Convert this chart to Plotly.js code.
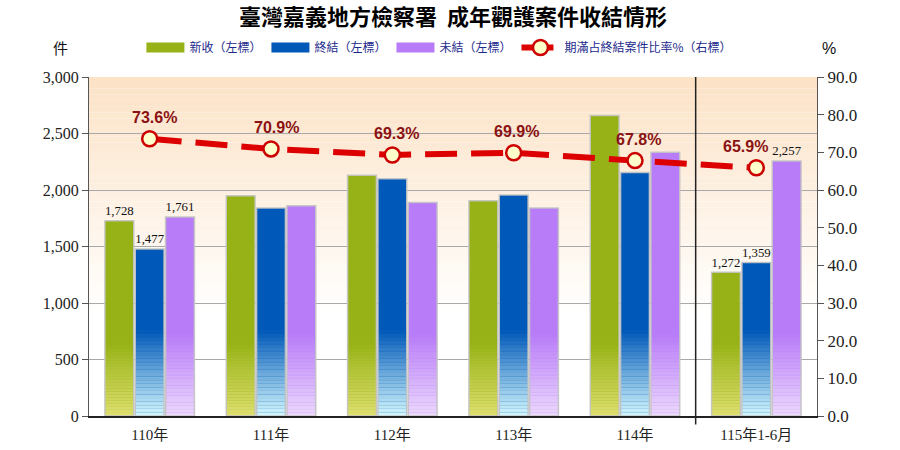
<!DOCTYPE html>
<html>
<head>
<meta charset="utf-8">
<script src="https://cdn.plot.ly/plotly-3.0.1.min.js"></script>
<style>
html,body{margin:0;padding:0;background:#fff;}
#chart{width:900px;height:450px;}
</style>
</head>
<body>
<div id="chart"></div>
<script>
// ---- data ----
const categories = ['110年', '111年', '112年', '113年', '114年', '115年1-6月'];
const newCases   = [1728, 1950, 2130, 1905, 2660, 1272];
const closed     = [1477, 1840, 2100, 1955, 2155, 1359];
const pending    = [1761, 1860, 1890, 1840, 2335, 2257];
const ratio      = [73.6, 70.9, 69.3, 69.9, 67.8, 65.9];
const labeledIdx = [0, 5];
const seriesNames = ['新收（左標）', '終結（左標）', '未結（左標）'];
const lineName = '期滿占終結案件比率%（右標）';
const titleText = '臺灣嘉義地方檢察署  成年觀護案件收結情形';

// ---- styles ----
const series = [
  {vals: newCases, name: seriesNames[0], top: [150,178,22], bottom: [224,224,112], fadeTo: 650, grp: 'g'},
  {vals: closed,   name: seriesNames[1], top: [0,88,184],   bottom: [212,248,253], fadeTo: 760, grp: 'b'},
  {vals: pending,  name: seriesNames[2], top: [184,124,248],bottom: [236,218,252], fadeTo: 720, grp: 'p'}
];
const SEG = 24;
const mix = (a, b, t) => 'rgb(' + a.map((v, i) => Math.round(v + (b[i] - v) * t)).join(',') + ')';
const serifFont = '"Liberation Serif", "Times New Roman", "Noto Sans CJK TC", serif';
const cjkFont = '"Noto Sans CJK TC", "Noto Sans CJK SC", sans-serif';
const pctShift = [5, 5, 4, 3, 3, -11];

const traces = [];
// legend swatches (wide rectangles like the reference)
series.forEach(s => {
  traces.push({type: 'scatter', mode: 'lines', x: [null], y: [null], name: s.name,
    line: {color: mix(s.top, s.top, 0), width: 10}, hoverinfo: 'skip'});
});

series.forEach(s => {
  // main bar
  traces.push({
    type: 'bar', x: categories, y: s.vals, name: s.name, offsetgroup: s.grp, showlegend: false,
    marker: {color: mix(s.top, s.top, 0), line: {width: 0}},
    text: s.vals.map((v, i) => labeledIdx.includes(i) ? v.toLocaleString('en-US') : ''),
    textposition: 'outside', cliponaxis: false,
    textfont: {family: serifFont, size: 14, color: '#111'},
    hoverinfo: 'y'
  });
  // gradient segments at bottom
  const step = s.fadeTo / SEG;
  for (let k = 0; k < SEG; k++) {
    const b = k * step;
    traces.push({
      type: 'bar', x: categories, offsetgroup: s.grp, showlegend: false, hoverinfo: 'skip',
      base: s.vals.map(() => b),
      y: s.vals.map(v => Math.max(0, Math.min(step, v - b)) + (v > b + step ? 0.6 : 0)),
      marker: {color: mix(s.bottom, s.top, (k + 0.5) / SEG), line: {width: 0}},
      textposition: 'none'
    });
  }
  // outline
  traces.push({
    type: 'bar', x: categories, y: s.vals, offsetgroup: s.grp, showlegend: false, hoverinfo: 'skip',
    marker: {color: 'rgba(0,0,0,0)', line: {width: 1.5, color: 'rgba(195,195,195,0.9)'}},
    textposition: 'none'
  });
});

traces.push({
  type: 'scatter', mode: 'lines+markers', x: categories, y: ratio, yaxis: 'y2', name: lineName,
  line: {color: '#dd0000', width: 6, dash: '32px,14px'},
  marker: {size: 15, color: '#ffffcc', line: {color: '#cc0000', width: 2.5}},
  cliponaxis: false
});

// percent labels
const annotations = ratio.map((v, i) => ({
  text: v.toFixed(1) + '%', x: categories[i], y: v, xref: 'x', yref: 'y2',
  xshift: pctShift[i], yshift: 21, showarrow: false, xanchor: 'center', yanchor: 'middle',
  font: {family: '"Liberation Sans", Arial, sans-serif', size: 16, color: '#8a1212', weight: 'bold'}
}));
annotations.push(
  {text: '件', xref: 'paper', yref: 'paper', x: -0.039, y: 1.087, xanchor: 'center', yanchor: 'middle',
    showarrow: false, font: {family: cjkFont, size: 15, color: '#111'}},
  {text: '%', xref: 'paper', yref: 'paper', x: 1.017, y: 1.083, xanchor: 'center', yanchor: 'middle',
    showarrow: false, font: {family: '"Liberation Sans", Arial, sans-serif', size: 16, color: '#111'}}
);

// background gradient bands
const shapes = [];
const bgTop = [252, 226, 198];
const bgStart = 900, bgEnd = 3000, BG = 40;
for (let k = 0; k < BG; k++) {
  const y0 = bgStart + (bgEnd - bgStart) * k / BG;
  const y1 = bgStart + (bgEnd - bgStart) * (k + 1) / BG;
  shapes.push({type: 'rect', xref: 'paper', yref: 'y', x0: 0, x1: 1, y0: y0, y1: y1 + 1,
    fillcolor: mix([255,255,255], bgTop, (k + 0.5) / BG), line: {width: 0}, layer: 'below'});
}
// separator between full years and half year
shapes.push({type: 'line', xref: 'x', yref: 'paper', x0: 4.5, x1: 4.5, y0: -0.025, y1: 1,
  line: {color: '#222', width: 1.5}});

const layout = {
  width: 900, height: 450,
  margin: {l: 89, r: 83, t: 77, b: 34},
  paper_bgcolor: '#fff', plot_bgcolor: 'rgba(0,0,0,0)',
  barmode: 'group', bargap: 0.25, bargroupgap: 0.05,
  title: {text: titleText, x: 0.5, xref: 'paper', xanchor: 'center', yref: 'container', y: 0.961, yanchor: 'middle',
    font: {family: cjkFont, size: 22, color: '#000', weight: 'bold'}},
  showlegend: true,
  legend: {orientation: 'h', x: 0.072, xanchor: 'left', y: 1.087, yanchor: 'middle',
    font: {family: cjkFont, size: 12, color: '#1c2a8c'}, bgcolor: 'rgba(0,0,0,0)',
    traceorder: 'normal', itemwidth: 38},
  xaxis: {type: 'category', showline: true, linecolor: '#222', linewidth: 1.5, ticks: '',
    tickfont: {family: serifFont, size: 15, color: '#222'}, showgrid: false, zeroline: false,
    ticklabelstandoff: 4},
  yaxis: {range: [0, 3000], dtick: 500, tickformat: ',d', showline: true, linecolor: '#555', linewidth: 1.2,
    ticks: 'outside', ticklen: 6, tickcolor: '#555', gridcolor: '#a8a8a8', gridwidth: 1,
    tickfont: {family: serifFont, size: 16, color: '#222'}, zeroline: false},
  yaxis2: {range: [0, 90], dtick: 10, tickformat: '.1f', overlaying: 'y', side: 'right', showgrid: false,
    showline: true, linecolor: '#555', linewidth: 1.2, ticks: 'outside', ticklen: 6, tickcolor: '#555',
    tickfont: {family: serifFont, size: 17, color: '#222'}, zeroline: false},
  shapes: shapes,
  annotations: annotations
};

Plotly.newPlot('chart', traces, layout, {displayModeBar: false, responsive: false});
</script>
</body>
</html>
